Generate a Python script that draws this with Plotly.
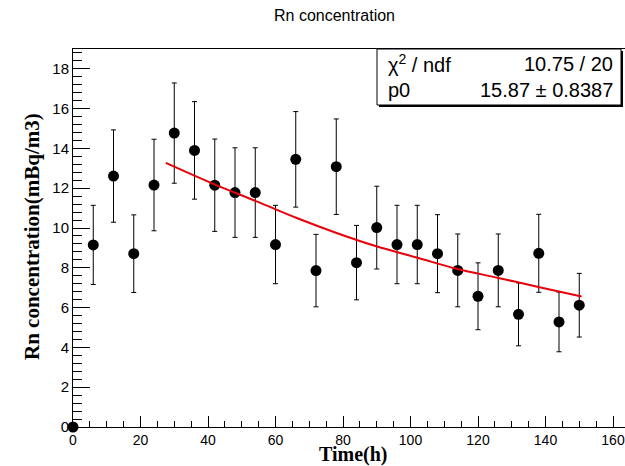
import plotly.graph_objects as go

# ---- data ----
time_h = [0, 6, 12, 18, 24, 30, 36, 42, 48, 54, 60, 66, 72, 78, 84, 90, 96,
          102, 108, 114, 120, 126, 132, 138, 144, 150]
rn_conc = [0.0, 9.15, 12.61, 8.71, 12.16, 14.77, 13.90, 12.15, 11.78, 11.78,
           9.17, 13.45, 7.86, 13.08, 8.26, 10.02, 9.17, 9.17, 8.71, 7.87,
           6.57, 7.87, 5.66, 8.73, 5.28, 6.12]
rn_err = [0.0, 1.99, 2.32, 1.95, 2.30, 2.52, 2.45, 2.32, 2.25, 2.25,
          1.97, 2.40, 1.82, 2.40, 1.87, 2.08, 1.97, 1.97, 1.96, 1.83,
          1.68, 1.83, 1.58, 1.96, 1.50, 1.60]

fit_t = [27.5, 42.1, 54.4, 66.3, 78.1, 89.9, 101.8, 113.7, 126.0, 137.9, 150.7]
fit_y = [13.27, 12.18, 11.34, 10.50, 9.75, 9.08, 8.52, 7.95, 7.49, 7.04, 6.56]

title_text = "Rn concentration"
x_title = "Time(h)"
y_title = "Rn concentration(mBq/m3)"
stat_labels = ["χ<sup>2</sup> / ndf", "p0"]
stat_values = ["10.75 / 20", "15.87 ± 0.8387"]

# ---- layout geometry (pixels) ----
W, H = 625, 466
L, R, T, B = 73, 625, 49, 427
pw, ph = R - L, B - T


def px_x(x):
    return (x - L) / pw


def px_y(y):
    return (B - y) / ph


fig = go.Figure()

fig.add_trace(go.Scatter(
    x=time_h, y=rn_conc,
    mode="markers",
    marker=dict(color="black", size=11, symbol="circle"),
    error_y=dict(type="data", array=rn_err, visible=True,
                 color="black", thickness=1, width=2.5),
    cliponaxis=False,
    showlegend=False,
))

fig.add_trace(go.Scatter(
    x=fit_t, y=fit_y,
    mode="lines",
    line=dict(color="#e8000b", width=2, shape="spline"),
    showlegend=False,
))

sans = "Liberation Sans, Arial, Helvetica, sans-serif"
serif = "Liberation Serif, Times New Roman, serif"

fig.update_layout(
    width=W, height=H,
    margin=dict(l=L, r=W - R, t=T, b=H - B),
    paper_bgcolor="white", plot_bgcolor="white",
    title=dict(text=title_text, x=334.5 / W, xanchor="center",
               y=1 - 15 / H, yanchor="middle",
               font=dict(family=sans, size=16, color="black")),
    xaxis=dict(
        range=[0, (R - L) / 3.375],
        tickmode="array", tickvals=[0, 20, 40, 60, 80, 100, 120, 140, 160],
        ticks="inside", ticklen=11, tickwidth=1, tickcolor="black",
        minor=dict(dtick=5, ticks="inside", ticklen=6, tickcolor="black", tickwidth=1),
        showline=True, linecolor="black", linewidth=1, mirror=True,
        showgrid=False, zeroline=False,
        tickfont=dict(family=sans, size=14, color="black"),
    ),
    yaxis=dict(
        range=[0, (B - T) / 19.9],
        tickmode="array", tickvals=[0, 2, 4, 6, 8, 10, 12, 14, 16, 18],
        ticks="inside", ticklen=17, tickwidth=1, tickcolor="black",
        minor=dict(dtick=0.4, ticks="inside", ticklen=9, tickcolor="black", tickwidth=1),
        showline=True, linecolor="black", linewidth=1, mirror=True,
        showgrid=False, zeroline=False,
        tickfont=dict(family=sans, size=15, color="black"),
    ),
)

annotations = [
    dict(text=x_title, xref="paper", yref="paper", x=px_x(353), y=px_y(455),
         xanchor="center", yanchor="middle", showarrow=False,
         font=dict(family=serif, size=20, color="black", weight="bold")),
    dict(text=y_title, xref="paper", yref="paper", x=px_x(32), y=px_y(237),
         xanchor="center", yanchor="middle", showarrow=False, textangle=-90,
         font=dict(family=serif, size=21, color="black", weight="bold")),
]

# stat box
bx0, bx1, by0, by1 = 377, 621, 49, 105
shapes = [
    dict(type="rect", xref="paper", yref="paper",
         x0=px_x(bx0 + 2), x1=px_x(bx1 + 2), y0=px_y(by1 + 2), y1=px_y(by0 + 2),
         fillcolor="black", line=dict(width=0), layer="above"),
    dict(type="rect", xref="paper", yref="paper",
         x0=px_x(bx0), x1=px_x(bx1), y0=px_y(by1), y1=px_y(by0),
         fillcolor="white", line=dict(color="black", width=1), layer="above"),
]
row_y = [64, 90]
for lab, val, yy in zip(stat_labels, stat_values, row_y):
    annotations.append(dict(text=lab, xref="paper", yref="paper", x=px_x(386), y=px_y(yy),
                            xanchor="left", yanchor="middle", showarrow=False,
                            font=dict(family=sans, size=20, color="black")))
    annotations.append(dict(text=val, xref="paper", yref="paper", x=px_x(615), y=px_y(yy),
                            xanchor="right", yanchor="middle", showarrow=False,
                            font=dict(family=sans, size=20, color="black")))

fig.update_layout(annotations=annotations, shapes=shapes)

fig.write_html(
    "out.html",
    config={"displayModeBar": False},
    post_script="document.body.style.margin='0';document.body.style.overflow='hidden';",
)
